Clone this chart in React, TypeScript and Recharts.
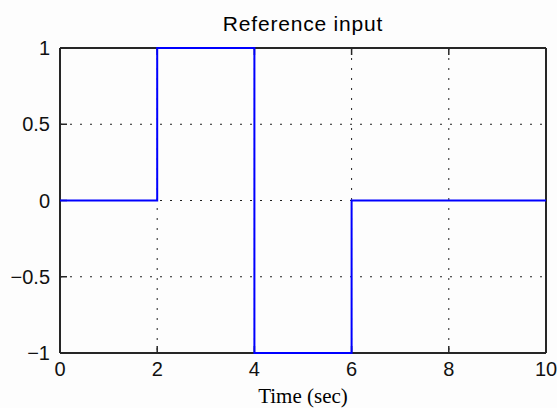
import { LineChart, Line, XAxis, YAxis, CartesianGrid } from "recharts";

// step input, sampled at the switching times
const time = [0, 2, 4, 6, 10];
const reference = [0, 1, -1, 0, 0];

const xTicks = [0, 2, 4, 6, 8, 10];
const yTicks = [-1, -0.5, 0, 0.5, 1];
const xGrid = [2, 4, 6, 8];
const yGrid = [-0.5, 0, 0.5];

const data = time.map((t, i) => ({ t, r: reference[i] }));

const fmt = (v: number) => (v < 0 ? "\u2212" + Math.abs(v) : String(v));
const noLabel = () => <g />;

const axisColor = "#262626";
const tickFont = { fontFamily: "Liberation Sans, Arial, sans-serif", fontSize: 20, fill: "#111" };

const App = () => {
  return (
    <div style={{ position: "absolute", left: 0, top: 0, width: 557, height: 408, background: "#fdfdfd" }}>
      <LineChart width={557} height={408} data={data} margin={{ top: 47, right: 10, left: 0, bottom: 0 }}>
        <CartesianGrid
          horizontalValues={yGrid}
          verticalValues={xGrid}
          stroke="#222"
          strokeDasharray="2 8"
          strokeWidth={1}
        />
        <XAxis
          dataKey="t"
          type="number"
          domain={[0, 10]}
          ticks={xTicks}
          height={55}
          tickSize={-7}
          tickMargin={16}
          tickFormatter={fmt}
          tick={tickFont}
          axisLine={{ stroke: axisColor, strokeWidth: 2 }}
          tickLine={{ stroke: axisColor, strokeWidth: 1.5 }}
          label={{
            value: "Time (sec)",
            position: "insideBottom",
            offset: 5,
            style: { fontFamily: "Liberation Serif, Times New Roman, serif", fontSize: 21, fill: "#000" },
          }}
        />
        <XAxis
          xAxisId="top"
          orientation="top"
          dataKey="t"
          type="number"
          domain={[0, 10]}
          ticks={xTicks}
          height={1}
          tickSize={-7}
          tick={noLabel}
          axisLine={{ stroke: axisColor, strokeWidth: 2 }}
          tickLine={{ stroke: axisColor, strokeWidth: 1.5 }}
          label={{
            value: "Reference input",
            position: "top",
            offset: 16,
            style: {
              fontFamily: "Liberation Sans, Arial, sans-serif",
              fontSize: 21,
              letterSpacing: 0.8,
              fill: "#000",
            },
          }}
        />
        <YAxis
          type="number"
          domain={[-1, 1]}
          ticks={yTicks}
          width={60}
          tickSize={-7}
          tickMargin={17}
          tickFormatter={fmt}
          tick={tickFont}
          axisLine={{ stroke: axisColor, strokeWidth: 2 }}
          tickLine={{ stroke: axisColor, strokeWidth: 1.5 }}
        />
        <YAxis
          yAxisId="right"
          orientation="right"
          type="number"
          domain={[-1, 1]}
          ticks={yTicks}
          width={1}
          tickSize={-7}
          tick={noLabel}
          axisLine={{ stroke: axisColor, strokeWidth: 2 }}
          tickLine={{ stroke: axisColor, strokeWidth: 1.5 }}
        />
        <Line
          type="stepAfter"
          dataKey="r"
          stroke="#0000ff"
          strokeWidth={2}
          dot={false}
          zIndex={1000}
          isAnimationActive={false}
        />
      </LineChart>
    </div>
  );
};

export default App;
